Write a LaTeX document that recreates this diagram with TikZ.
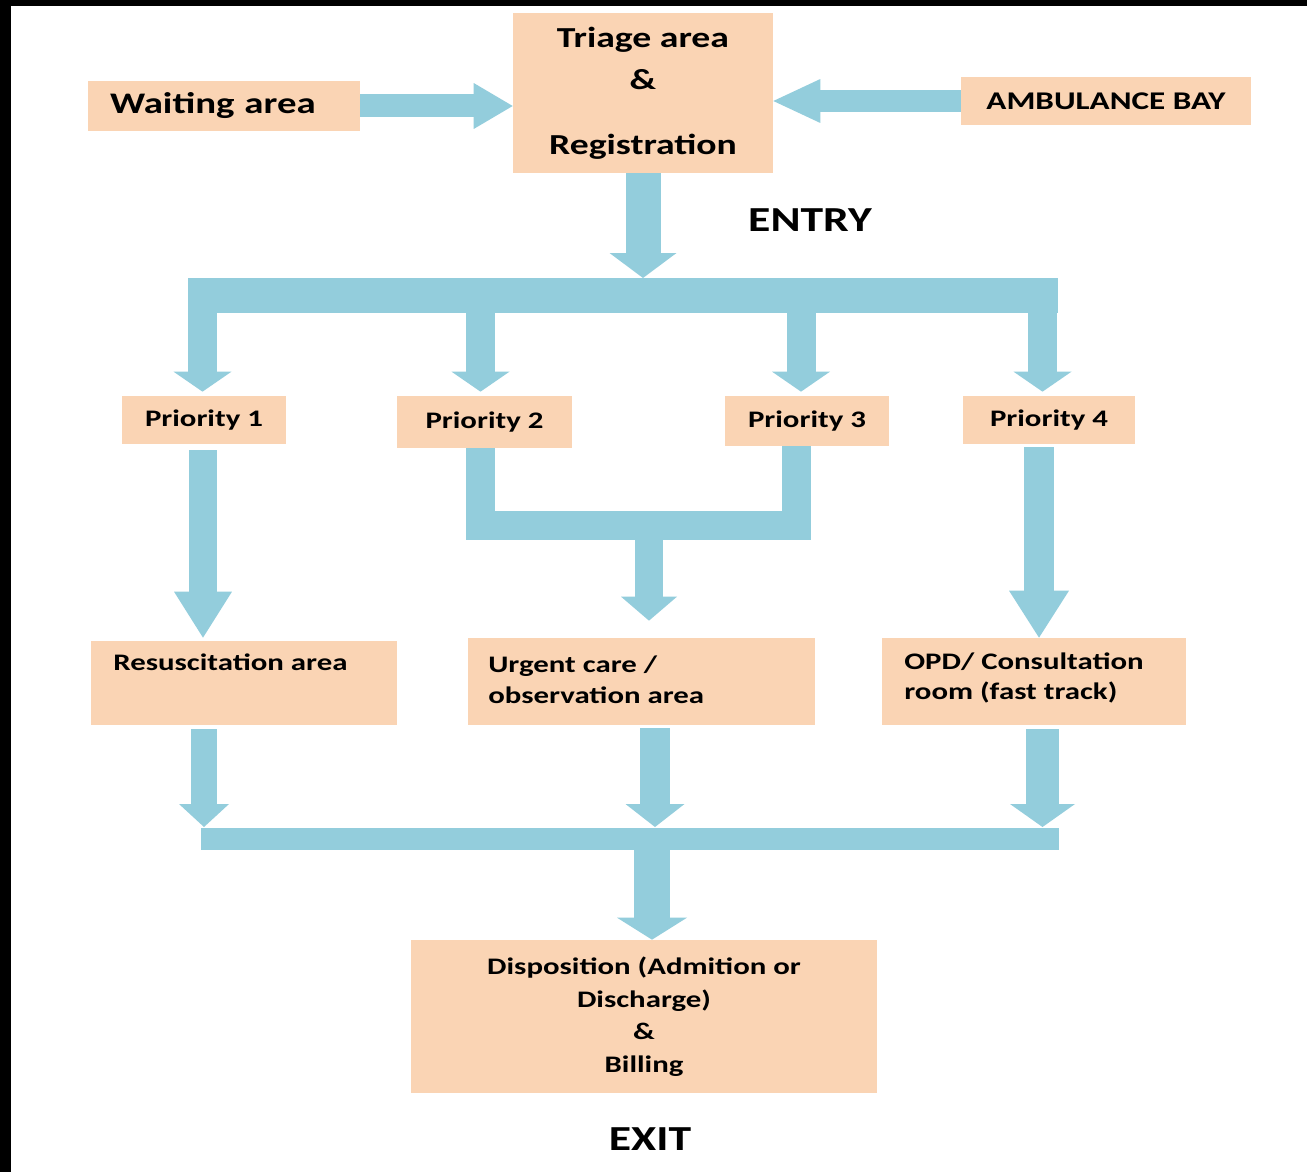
\documentclass[tikz,border=0pt]{standalone}
\usepackage{fontspec}
\setmainfont{Carlito}[FakeStretch=1.3]
\usepackage{tikz}
\usetikzlibrary{arrows.meta}
\definecolor{peach}{HTML}{FAD4B4}
\definecolor{aqua}{HTML}{93CDDC}

\begin{document}
\begin{tikzpicture}
           [x=0.02cm, y=-0.02cm,
            box/.style = {fill=peach, inner sep=0pt},
            lbl/.style = {inner sep=0pt, font=\bfseries\fontsize{13.5}{17.5}\selectfont},
            big/.style = {inner sep=0pt, font=\bfseries\fontsize{20}{24}\selectfont},
            pipe/.style = {draw=aqua, line width=#1},
            flow/.style n args={3}{draw=aqua, line width=#1,
              -{Triangle[width=#2, length=#3, line width=0pt]}}]
            \useasboundingbox (0,0) rectangle (1307,1172);
            \fill[white] (0,0) rectangle (1307,1172);
            \fill[black] (0,0) rectangle (11,1172);
            \fill[black] (0,0) rectangle (1307,6);

            \node[box, lbl, minimum width=5.44cm, minimum height=1cm, inner xsep=0.44cm, text width=4.56cm, align=left, font=\bfseries\fontsize{17}{20}\selectfont] (wait) at (224,106) {Waiting area};
            \node[box, minimum width=5.2cm, minimum height=3.2cm, align=center, font=\bfseries\fontsize{16.5}{24}\selectfont] (triage) at (643,93) {Triage area\\\&\\[13pt]Registration};
            \node[box, minimum width=5.8cm, minimum height=0.96cm, font=\bfseries\fontsize{14.5}{17}\selectfont] (amb) at (1106,101) {AMBULANCE BAY};
            \node[big] (entry) at (810,220) {ENTRY};

            \node[box, lbl, minimum width=3.28cm, minimum height=0.96cm] (p1) at (204,420) {Priority 1};
            \node[box, lbl, minimum width=3.5cm, minimum height=1.04cm] (p2) at (484.5,422) {Priority 2};
            \node[box, lbl, minimum width=3.28cm, minimum height=1cm] (p3) at (807,421) {Priority 3};
            \node[box, lbl, minimum width=3.44cm, minimum height=0.96cm] (p4) at (1049,420) {Priority 4};

            \node[box, minimum width=6.12cm, minimum height=1.68cm] (resus) at (244,683) {};
            \node[box, minimum width=6.94cm, minimum height=1.74cm] (urgent) at (641.5,681.5) {};
            \node[box, minimum width=6.08cm, minimum height=1.74cm] (opd) at (1034,681.5) {};
            \node[lbl, anchor=base west] (resustext) at (113,670) {Resuscitation area};
            \node[lbl, anchor=north west, align=left] (urgenttext) at (488,656) {Urgent care /\\observation area};
            \node[lbl, anchor=north west, align=left] (opdtext) at (904,652) {OPD/ Consultation\\room (fast track)};

            \node[box, minimum width=9.32cm, minimum height=3.06cm, align=center, font=\bfseries\fontsize{13.5}{18.5}\selectfont] (disp) at (644,1016.5) {Disposition (Admition or\\Discharge)\\\&\\Billing};
            \node[big] (exit) at (650,1139) {EXIT};

            \coordinate (split) at (643,278);
            \coordinate (busL) at (188,295.5);
            \coordinate (busR) at (1058,295.5);
            \coordinate (merge) at (649,525);
            \coordinate (joinL) at (201,839);
            \coordinate (joinR) at (1059,839);

            \draw[flow={0.46cm}{0.92cm}{0.78cm}] (wait.east) -- (wait.east -| triage.west);
            \draw[flow={0.44cm}{0.88cm}{0.94cm}] (amb.west) -- (amb.west -| triage.east);
            \draw[flow={0.7cm}{1.34cm}{0.5cm}] (triage.south) -- (split);
            \draw[pipe=0.7cm] (busL) -- (busR);
            \foreach \p/\dx in {p1/-0.03cm, p2/-0.08cm, p3/-0.12cm, p4/-0.13cm}
              \draw[flow={0.58cm}{1.16cm}{0.4cm}, shorten >=0.08cm] ([xshift=\dx]\p.north |- busL) -- ([xshift=\dx]\p.north);

            \draw[flow={0.56cm}{1.16cm}{0.92cm}, shorten <=0.12cm, shorten >=0.06cm] ([xshift=-0.02cm]p1.south) -- ([xshift=-0.02cm]p1.south |- resus.north);
            \draw[pipe=0.58cm] ([xshift=-0.08cm]p2.south) |- (merge) -| ([xshift=-0.21cm]p3.south);
            \draw[flow={0.56cm}{1.12cm}{0.48cm}, shorten >=0.34cm] (merge) -- (merge |- urgent.north);
            \draw[flow={0.6cm}{1.2cm}{0.94cm}, shorten <=0.06cm] ([xshift=-0.2cm]p4.south) -- ([xshift=-0.2cm]p4.south |- opd.north);

            \draw[pipe=0.44cm] (joinL) -- (joinR);
            \draw[flow={0.52cm}{1cm}{0.46cm}, shorten <=0.08cm, shorten >=0.24cm] ([xshift=-0.8cm]resus.south) -- ([xshift=-0.8cm]resus.south |- joinL);
            \draw[flow={0.6cm}{1.18cm}{0.46cm}, shorten <=0.06cm, shorten >=0.24cm] ([xshift=0.27cm]urgent.south) -- ([xshift=0.27cm]urgent.south |- joinL);
            \draw[flow={0.66cm}{1.3cm}{0.46cm}, shorten <=0.08cm, shorten >=0.24cm] ([xshift=0.17cm]opd.south) -- ([xshift=0.17cm]opd.south |- joinL);
            \draw[flow={0.72cm}{1.4cm}{0.44cm}, shorten <=0.22cm] ([xshift=0.16cm]disp.north |- joinL) -- ([xshift=0.16cm]disp.north);
        \end{tikzpicture}
\end{document}
